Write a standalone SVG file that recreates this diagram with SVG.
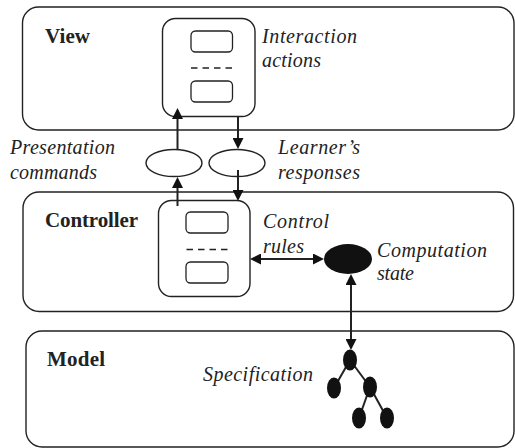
<svg xmlns="http://www.w3.org/2000/svg" width="515" height="448" viewBox="0 0 515 448">
<style>
.layer{fill:#fff;stroke:#222;stroke-width:1.4}
.panel{fill:#fff;stroke:#222;stroke-width:1.4}
.slot{fill:#fff;stroke:#222;stroke-width:1.3}
.dash{stroke:#222;stroke-width:1.3;stroke-dasharray:6.5 5}
.title{font-family:"Liberation Serif",serif;font-weight:bold;font-size:21px;fill:#222}
.note{font-family:"Liberation Serif",serif;font-style:italic;font-size:20px;fill:#222}
.wire{stroke:#222;stroke-width:2;fill:none}
.bubble{fill:#fff;stroke:#222;stroke-width:1.4}
.node{fill:#111}
.edge{stroke:#222;stroke-width:2}
</style>
<defs>
<marker id="head" viewBox="0 0 11 11" refX="8" refY="5.5" markerWidth="11" markerHeight="11" markerUnits="userSpaceOnUse" orient="auto-start-reverse">
<path d="M0,0 L11,5.5 L0,11 z" fill="#111"/>
</marker>
</defs>
<rect width="515" height="448" fill="#fff"/>

<!-- View layer -->
<g id="view">
<rect class="layer" x="22.5" y="7" width="491.5" height="123" rx="16"/>
<text class="title" x="45" y="43" textLength="45" lengthAdjust="spacing">View</text>
</g>
<g id="view-panel">
<rect class="panel" x="162.5" y="18.5" width="92.5" height="98" rx="13"/>
<rect class="slot" x="191" y="31" width="41.5" height="21" rx="4.5"/>
<line class="dash" x1="191" y1="68" x2="232" y2="68"/>
<rect class="slot" x="191" y="81" width="41.5" height="21" rx="4.5"/>
<text class="note" x="262" y="43" textLength="95" lengthAdjust="spacing">Interaction</text>
<text class="note" x="262" y="67" textLength="59" lengthAdjust="spacing">actions</text>
</g>

<!-- Messages between view and controller -->
<g id="presentation-commands">
<ellipse class="bubble" cx="174" cy="163" rx="28" ry="13.5"/>
<text class="note" x="10" y="154" textLength="105" lengthAdjust="spacing">Presentation</text>
<text class="note" x="10" y="179" textLength="87" lengthAdjust="spacing">commands</text>
</g>
<g id="learner-responses">
<ellipse class="bubble" cx="237" cy="163" rx="28" ry="13.5"/>
<text class="note" x="278" y="154" textLength="82" lengthAdjust="spacing">Learner’s</text>
<text class="note" x="278" y="179" textLength="82" lengthAdjust="spacing">responses</text>
</g>

<!-- Controller layer -->
<g id="controller">
<rect class="layer" x="23" y="192" width="490.5" height="119.5" rx="16"/>
<text class="title" x="45" y="227" textLength="93" lengthAdjust="spacing">Controller</text>
</g>
<g id="controller-panel">
<rect class="panel" x="158.5" y="200.5" width="91.5" height="96" rx="13"/>
<rect class="slot" x="186" y="212" width="42" height="21" rx="4.5"/>
<line class="dash" x1="186.5" y1="249.5" x2="227.5" y2="249.5"/>
<rect class="slot" x="186" y="262" width="42" height="21" rx="4.5"/>
<text class="note" x="263" y="228" textLength="66" lengthAdjust="spacing">Control</text>
<text class="note" x="263" y="253" textLength="41" lengthAdjust="spacing">rules</text>
</g>
<g id="computation-state">
<ellipse class="node" cx="348" cy="259" rx="24" ry="15"/>
<text class="note" x="377" y="257" textLength="110" lengthAdjust="spacing">Computation</text>
<text class="note" x="377" y="280" textLength="37" lengthAdjust="spacing">state</text>
</g>

<!-- Model layer -->
<g id="model">
<rect class="layer" x="26" y="331" width="488" height="116" rx="16"/>
<text class="title" x="47" y="366" textLength="58" lengthAdjust="spacing">Model</text>
</g>
<g id="specification">
<text class="note" x="203" y="381" textLength="110" lengthAdjust="spacing">Specification</text>
<line class="edge" x1="350" y1="360" x2="334" y2="388"/>
<line class="edge" x1="350" y1="360" x2="370" y2="387"/>
<line class="edge" x1="370" y1="387" x2="359" y2="418"/>
<line class="edge" x1="370" y1="387" x2="387" y2="418"/>
<ellipse class="node" cx="350" cy="360" rx="7" ry="10.5"/>
<ellipse class="node" cx="334" cy="388" rx="7" ry="10.5"/>
<ellipse class="node" cx="370" cy="387" rx="7" ry="10.5"/>
<ellipse class="node" cx="359" cy="418" rx="7" ry="10.5"/>
<ellipse class="node" cx="387" cy="418" rx="7" ry="10.5"/>
</g>

<!-- Connectors -->
<g id="connectors">
<line class="wire" x1="177.5" y1="206" x2="177.5" y2="180" marker-end="url(#head)"/>
<line class="wire" x1="177.5" y1="149.5" x2="177.5" y2="111" marker-end="url(#head)"/>
<line class="wire" x1="238" y1="116.5" x2="238" y2="146" marker-end="url(#head)"/>
<line class="wire" x1="238" y1="170" x2="238" y2="198" marker-end="url(#head)"/>
<line class="wire" x1="253" y1="259" x2="321" y2="259" marker-start="url(#head)" marker-end="url(#head)"/>
<line class="wire" x1="351" y1="277" x2="351" y2="347" marker-start="url(#head)" marker-end="url(#head)"/>
</g>
</svg>
